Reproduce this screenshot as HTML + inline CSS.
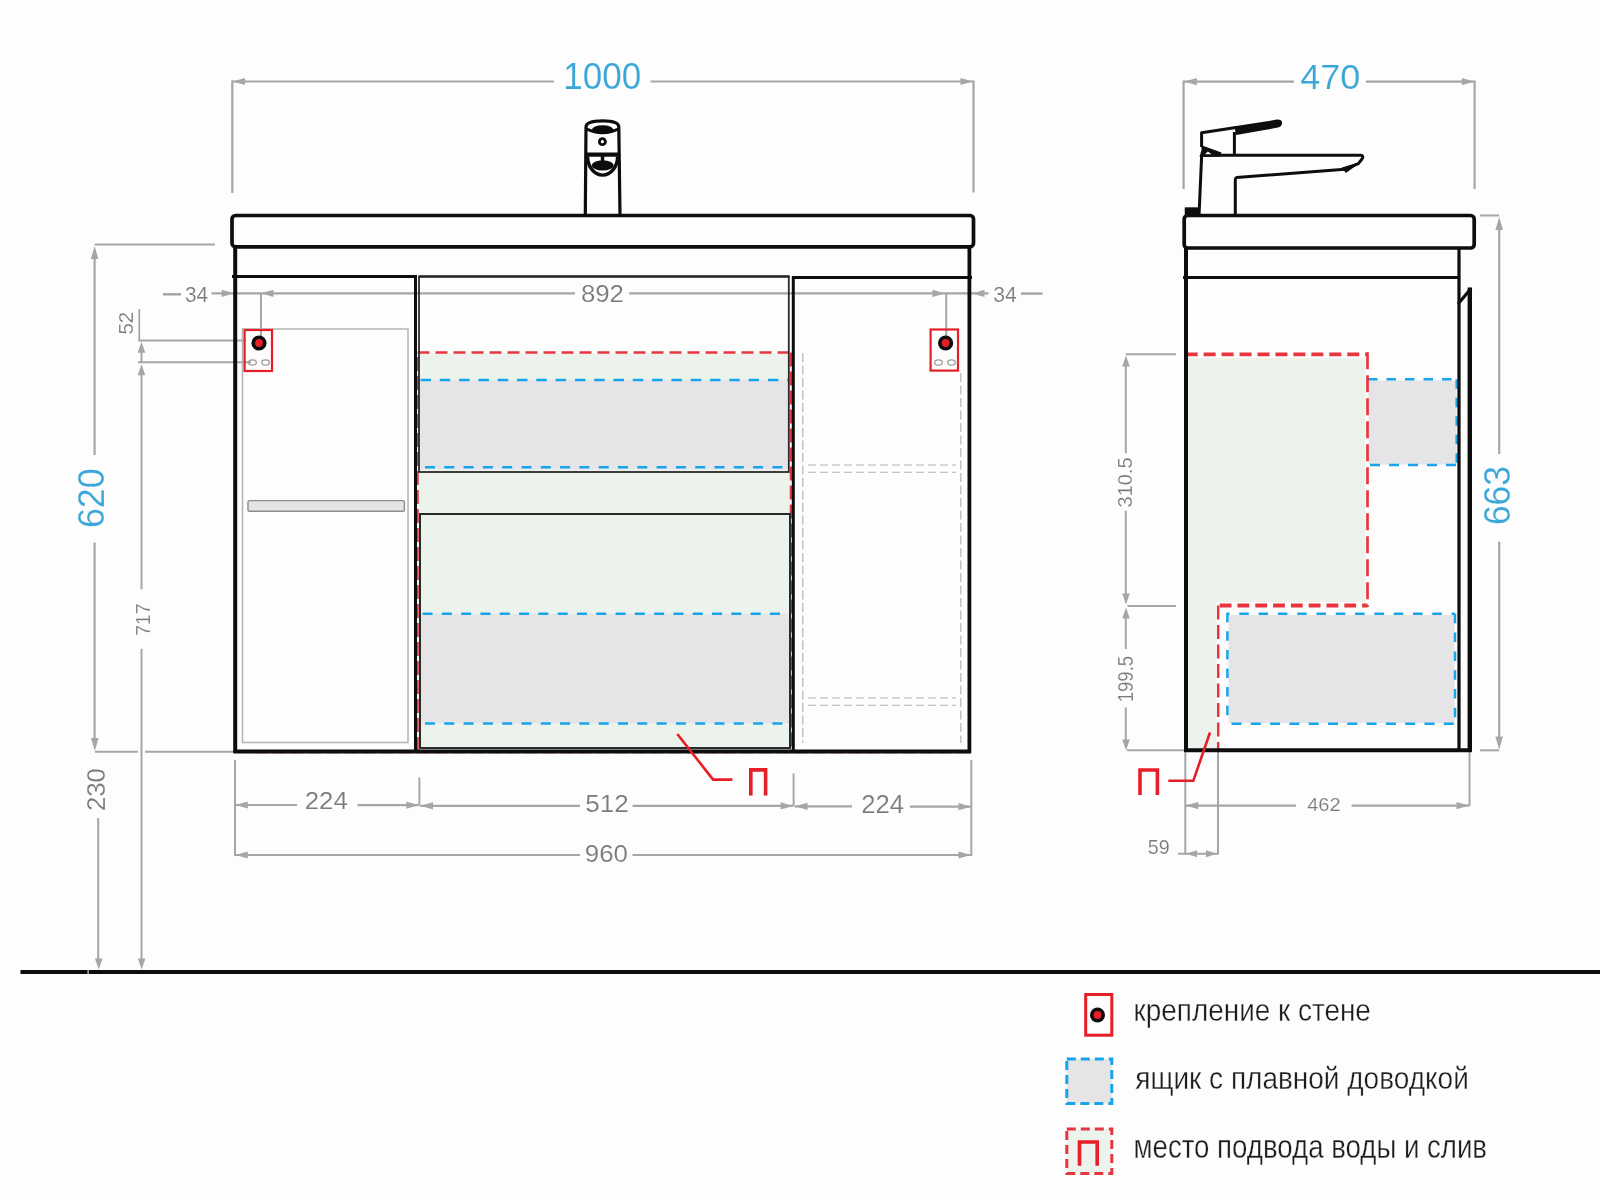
<!DOCTYPE html>
<html><head><meta charset="utf-8"><style>
html,body{margin:0;padding:0;background:#fdfdfd;}
svg{display:block;}
text{font-family:"Liberation Sans",sans-serif;}
</style></head><body>
<svg width="1600" height="1200" viewBox="0 0 1600 1200" style="will-change:transform">
<rect width="1600" height="1200" fill="#fdfdfd"/>
<rect x="418" y="353.5" width="372" height="397" fill="#ebf3ec"/>
<rect x="419" y="380" width="370" height="89.5" fill="#e5e5e8"/>
<rect x="420" y="613.8" width="369" height="109.6" fill="#e5e5e8"/>
<path d="M1188,358 H1365.5 V602 H1216.5 V750 H1188 Z" fill="#ebf3ec"/>
<rect x="1368.5" y="380.5" width="88" height="84" fill="#e5e5e8"/>
<rect x="1228.5" y="615" width="226" height="108" fill="#e5e5e8"/>
<line x1="232" y1="81.5" x2="554" y2="81.5" stroke="#a4a6a9" stroke-width="2.2" stroke-linecap="butt"/>
<line x1="650.5" y1="81.5" x2="973.5" y2="81.5" stroke="#a4a6a9" stroke-width="2.2" stroke-linecap="butt"/>
<polygon points="232.50,81.50 245.00,77.90 245.00,85.10" fill="#a4a6a9"/>
<polygon points="973.00,81.50 960.50,77.90 960.50,85.10" fill="#a4a6a9"/>
<line x1="232.3" y1="80.5" x2="232.3" y2="193" stroke="#a4a6a9" stroke-width="2.2" stroke-linecap="butt"/>
<line x1="973.5" y1="80.5" x2="973.5" y2="192.5" stroke="#a4a6a9" stroke-width="2.2" stroke-linecap="butt"/>
<line x1="163" y1="294.3" x2="181" y2="294.3" stroke="#a4a6a9" stroke-width="2.5" stroke-linecap="butt"/>
<line x1="211.5" y1="293.3" x2="575" y2="293.3" stroke="#a4a6a9" stroke-width="2.2" stroke-linecap="butt"/>
<polygon points="234.20,293.30 221.70,289.70 221.70,296.90" fill="#a4a6a9"/>
<polygon points="261.00,293.30 273.50,289.70 273.50,296.90" fill="#a4a6a9"/>
<line x1="629.2" y1="293.4" x2="988.5" y2="293.4" stroke="#a4a6a9" stroke-width="2.2" stroke-linecap="butt"/>
<polygon points="945.00,293.40 932.50,289.80 932.50,297.00" fill="#a4a6a9"/>
<polygon points="972.00,293.40 984.50,289.80 984.50,297.00" fill="#a4a6a9"/>
<line x1="1021" y1="293.6" x2="1042.5" y2="293.6" stroke="#a4a6a9" stroke-width="2.5" stroke-linecap="butt"/>
<line x1="261" y1="293" x2="261" y2="336" stroke="#a4a6a9" stroke-width="2" stroke-linecap="butt"/>
<line x1="946.2" y1="293" x2="946.2" y2="336" stroke="#a4a6a9" stroke-width="2" stroke-linecap="butt"/>
<line x1="139.3" y1="309" x2="139.3" y2="341" stroke="#9d9fa2" stroke-width="1.6" stroke-linecap="butt"/>
<line x1="138.5" y1="340.4" x2="246" y2="340.4" stroke="#a4a6a9" stroke-width="2" stroke-linecap="butt"/>
<line x1="138" y1="362.3" x2="251" y2="362.3" stroke="#a4a6a9" stroke-width="2" stroke-linecap="butt"/>
<polygon points="141.50,341.80 137.70,352.80 145.30,352.80" fill="#a4a6a9"/>
<line x1="141.5" y1="350" x2="141.5" y2="362" stroke="#a4a6a9" stroke-width="2" stroke-linecap="butt"/>
<polygon points="141.50,364.30 137.70,375.30 145.30,375.30" fill="#a4a6a9"/>
<line x1="141.5" y1="372" x2="141.5" y2="589.3" stroke="#a4a6a9" stroke-width="2" stroke-linecap="butt"/>
<line x1="141.5" y1="648.8" x2="141.5" y2="960" stroke="#a4a6a9" stroke-width="2" stroke-linecap="butt"/>
<polygon points="141.60,969.50 137.80,958.50 145.40,958.50" fill="#a4a6a9"/>
<line x1="94.6" y1="244.5" x2="215" y2="244.5" stroke="#a4a6a9" stroke-width="2.2" stroke-linecap="butt"/>
<polygon points="94.60,246.00 90.80,259.00 98.40,259.00" fill="#a4a6a9"/>
<line x1="94.6" y1="256" x2="94.6" y2="455" stroke="#a4a6a9" stroke-width="2.2" stroke-linecap="butt"/>
<line x1="94.6" y1="542.6" x2="94.6" y2="740" stroke="#a4a6a9" stroke-width="2.2" stroke-linecap="butt"/>
<polygon points="94.80,751.00 91.00,738.00 98.60,738.00" fill="#a4a6a9"/>
<line x1="95" y1="751.8" x2="138" y2="751.8" stroke="#a4a6a9" stroke-width="2" stroke-linecap="butt"/>
<line x1="145" y1="751.8" x2="233" y2="751.8" stroke="#a4a6a9" stroke-width="2" stroke-linecap="butt"/>
<line x1="98.2" y1="818" x2="98.2" y2="960" stroke="#a4a6a9" stroke-width="2" stroke-linecap="butt"/>
<polygon points="98.70,969.50 94.90,958.50 102.50,958.50" fill="#a4a6a9"/>
<line x1="20.5" y1="972" x2="1600" y2="972" stroke="#0d0d0d" stroke-width="3.8" stroke-linecap="butt"/>
<rect x="87.6" y="968" width="1" height="8" fill="#fdfdfd"/>
<line x1="235" y1="760" x2="235" y2="856" stroke="#a4a6a9" stroke-width="2" stroke-linecap="butt"/>
<line x1="971.3" y1="760" x2="971.3" y2="856" stroke="#a4a6a9" stroke-width="2" stroke-linecap="butt"/>
<line x1="419.4" y1="777.5" x2="419.4" y2="806" stroke="#a4a6a9" stroke-width="2" stroke-linecap="butt"/>
<line x1="793.6" y1="773.5" x2="793.6" y2="806" stroke="#a4a6a9" stroke-width="2" stroke-linecap="butt"/>
<line x1="235" y1="805" x2="297" y2="805" stroke="#a4a6a9" stroke-width="2.2" stroke-linecap="butt"/>
<polygon points="235.30,805.00 247.80,801.40 247.80,808.60" fill="#a4a6a9"/>
<line x1="357.5" y1="805.2" x2="418.5" y2="805.2" stroke="#a4a6a9" stroke-width="2.2" stroke-linecap="butt"/>
<polygon points="418.80,805.20 406.30,801.60 406.30,808.80" fill="#a4a6a9"/>
<line x1="420.5" y1="805.8" x2="580" y2="805.8" stroke="#a4a6a9" stroke-width="2.2" stroke-linecap="butt"/>
<polygon points="420.50,805.80 433.00,802.20 433.00,809.40" fill="#a4a6a9"/>
<line x1="632.6" y1="805.9" x2="793" y2="805.9" stroke="#a4a6a9" stroke-width="2.2" stroke-linecap="butt"/>
<polygon points="793.20,805.90 780.70,802.30 780.70,809.50" fill="#a4a6a9"/>
<line x1="794.5" y1="806.3" x2="852" y2="806.3" stroke="#a4a6a9" stroke-width="2.2" stroke-linecap="butt"/>
<polygon points="795.00,806.30 807.50,802.70 807.50,809.90" fill="#a4a6a9"/>
<line x1="910" y1="806.7" x2="971" y2="806.7" stroke="#a4a6a9" stroke-width="2.2" stroke-linecap="butt"/>
<polygon points="971.00,806.70 958.50,803.10 958.50,810.30" fill="#a4a6a9"/>
<line x1="235" y1="855" x2="580" y2="855" stroke="#a4a6a9" stroke-width="2.2" stroke-linecap="butt"/>
<polygon points="235.30,855.00 247.80,851.40 247.80,858.60" fill="#a4a6a9"/>
<line x1="632.5" y1="855" x2="971" y2="855" stroke="#a4a6a9" stroke-width="2.2" stroke-linecap="butt"/>
<polygon points="971.00,855.00 958.50,851.40 958.50,858.60" fill="#a4a6a9"/>
<line x1="1184" y1="81.6" x2="1294" y2="81.6" stroke="#a4a6a9" stroke-width="2.2" stroke-linecap="butt"/>
<line x1="1366" y1="81.6" x2="1474.6" y2="81.6" stroke="#a4a6a9" stroke-width="2.2" stroke-linecap="butt"/>
<polygon points="1184.30,81.60 1196.80,78.00 1196.80,85.20" fill="#a4a6a9"/>
<polygon points="1474.30,81.60 1461.80,78.00 1461.80,85.20" fill="#a4a6a9"/>
<line x1="1183.6" y1="80.5" x2="1183.6" y2="189" stroke="#a4a6a9" stroke-width="2.2" stroke-linecap="butt"/>
<line x1="1474.6" y1="80.5" x2="1474.6" y2="189" stroke="#a4a6a9" stroke-width="2.2" stroke-linecap="butt"/>
<line x1="1125.8" y1="354.2" x2="1176" y2="354.2" stroke="#a4a6a9" stroke-width="2" stroke-linecap="butt"/>
<polygon points="1126.00,355.50 1122.20,366.50 1129.80,366.50" fill="#a4a6a9"/>
<line x1="1125.8" y1="362" x2="1125.8" y2="453.3" stroke="#a4a6a9" stroke-width="2" stroke-linecap="butt"/>
<line x1="1125.8" y1="510.8" x2="1125.8" y2="595" stroke="#a4a6a9" stroke-width="2" stroke-linecap="butt"/>
<polygon points="1126.00,604.50 1122.20,593.50 1129.80,593.50" fill="#a4a6a9"/>
<line x1="1127.5" y1="606" x2="1176" y2="606" stroke="#a4a6a9" stroke-width="2" stroke-linecap="butt"/>
<polygon points="1126.00,607.50 1122.20,618.50 1129.80,618.50" fill="#a4a6a9"/>
<line x1="1125.8" y1="615" x2="1125.8" y2="649" stroke="#a4a6a9" stroke-width="2" stroke-linecap="butt"/>
<line x1="1125.8" y1="707.5" x2="1125.8" y2="742" stroke="#a4a6a9" stroke-width="2" stroke-linecap="butt"/>
<polygon points="1126.00,750.50 1122.20,739.50 1129.80,739.50" fill="#a4a6a9"/>
<line x1="1127" y1="750.2" x2="1184" y2="750.2" stroke="#a4a6a9" stroke-width="2" stroke-linecap="butt"/>
<line x1="1480" y1="215.5" x2="1499.2" y2="215.5" stroke="#a4a6a9" stroke-width="2" stroke-linecap="butt"/>
<polygon points="1499.20,217.00 1495.40,230.00 1503.00,230.00" fill="#a4a6a9"/>
<line x1="1499.2" y1="225" x2="1499.2" y2="454" stroke="#a4a6a9" stroke-width="2.2" stroke-linecap="butt"/>
<line x1="1499.2" y1="541.7" x2="1499.2" y2="740" stroke="#a4a6a9" stroke-width="2.2" stroke-linecap="butt"/>
<polygon points="1499.20,749.50 1495.40,736.50 1503.00,736.50" fill="#a4a6a9"/>
<line x1="1480" y1="750.3" x2="1499.2" y2="750.3" stroke="#a4a6a9" stroke-width="2" stroke-linecap="butt"/>
<line x1="1185.3" y1="752" x2="1185.3" y2="854.5" stroke="#a4a6a9" stroke-width="2" stroke-linecap="butt"/>
<line x1="1218" y1="752" x2="1218" y2="854.5" stroke="#a4a6a9" stroke-width="2" stroke-linecap="butt"/>
<line x1="1469.5" y1="752" x2="1469.5" y2="806" stroke="#a4a6a9" stroke-width="2" stroke-linecap="butt"/>
<line x1="1185.5" y1="805.6" x2="1296" y2="805.6" stroke="#a4a6a9" stroke-width="2.2" stroke-linecap="butt"/>
<polygon points="1185.80,805.60 1198.30,802.00 1198.30,809.20" fill="#a4a6a9"/>
<line x1="1351.6" y1="805.6" x2="1469" y2="805.6" stroke="#a4a6a9" stroke-width="2.2" stroke-linecap="butt"/>
<polygon points="1469.00,805.60 1456.50,802.00 1456.50,809.20" fill="#a4a6a9"/>
<line x1="1178" y1="853.8" x2="1218" y2="853.8" stroke="#a4a6a9" stroke-width="2" stroke-linecap="butt"/>
<polygon points="1186.00,853.80 1197.00,850.30 1197.00,857.30" fill="#a4a6a9"/>
<polygon points="1217.00,853.80 1206.00,850.30 1206.00,857.30" fill="#a4a6a9"/>
<line x1="417.5" y1="751" x2="417.5" y2="352.5" stroke="#e8353f" stroke-width="2.5" stroke-linecap="butt" stroke-dasharray="14 5"/>
<line x1="417.5" y1="352.5" x2="788" y2="352.5" stroke="#e8353f" stroke-width="2.5" stroke-linecap="butt" stroke-dasharray="12 6"/>
<line x1="791" y1="352.5" x2="791" y2="751" stroke="#e8353f" stroke-width="2.5" stroke-linecap="butt" stroke-dasharray="14 5"/>
<line x1="255" y1="752.5" x2="970" y2="752.5" stroke="#e8353f" stroke-width="1.5" stroke-linecap="butt" stroke-dasharray="12 6"/>
<line x1="420" y1="380" x2="788" y2="380" stroke="#16a5ea" stroke-width="2.5" stroke-dasharray="10.5 8.8" stroke-dashoffset="18.80" stroke-linecap="butt"/>
<line x1="425" y1="467.3" x2="784.5" y2="467.3" stroke="#16a5ea" stroke-width="2.5" stroke-dasharray="10 9.3" stroke-dashoffset="0.00" stroke-linecap="butt"/>
<line x1="420" y1="613.8" x2="788" y2="613.8" stroke="#16a5ea" stroke-width="2.5" stroke-dasharray="10 9.3" stroke-dashoffset="16.75" stroke-linecap="butt"/>
<line x1="425" y1="723.4" x2="784.5" y2="723.4" stroke="#16a5ea" stroke-width="2.5" stroke-dasharray="10 9.3" stroke-dashoffset="0.00" stroke-linecap="butt"/>
<line x1="1367.5" y1="379.3" x2="1456.7" y2="379.3" stroke="#16a5ea" stroke-width="2.5" stroke-dasharray="9.5 9" stroke-dashoffset="18.00" stroke-linecap="butt"/>
<line x1="1367.5" y1="465" x2="1456.7" y2="465" stroke="#16a5ea" stroke-width="2.5" stroke-dasharray="10 9" stroke-dashoffset="16.50" stroke-linecap="butt"/>
<line x1="1456.7" y1="379.3" x2="1456.7" y2="465" stroke="#16a5ea" stroke-width="2.5" stroke-dasharray="9.5 9" stroke-dashoffset="0.00" stroke-linecap="butt"/>
<line x1="1227.5" y1="613.8" x2="1455" y2="613.8" stroke="#16a5ea" stroke-width="2.5" stroke-dasharray="9.5 9.8" stroke-dashoffset="7.50" stroke-linecap="butt"/>
<line x1="1227.5" y1="723.7" x2="1455" y2="723.7" stroke="#16a5ea" stroke-width="2.5" stroke-dasharray="10 9.3" stroke-dashoffset="15.30" stroke-linecap="butt"/>
<line x1="1455" y1="613.8" x2="1455" y2="723.7" stroke="#16a5ea" stroke-width="2.5" stroke-dasharray="9.5 9.3" stroke-dashoffset="0.00" stroke-linecap="butt"/>
<line x1="1227.4" y1="612.7" x2="1227.4" y2="723.7" stroke="#16a5ea" stroke-width="2.5" stroke-dasharray="9.5 9.1" stroke-dashoffset="0.00" stroke-linecap="butt"/>
<line x1="1185.7" y1="354.3" x2="1367.5" y2="354.3" stroke="#e8353f" stroke-width="3.8" stroke-dasharray="12 5.95" stroke-dashoffset="0.00" stroke-linecap="butt"/>
<line x1="1367.5" y1="352.2" x2="1367.5" y2="607" stroke="#e8353f" stroke-width="2.7" stroke-dasharray="17 6" stroke-dashoffset="0.00" stroke-linecap="butt"/>
<line x1="1218.2" y1="605.5" x2="1367.5" y2="605.5" stroke="#e8353f" stroke-width="3.8" stroke-dasharray="11.8 6" stroke-dashoffset="16.30" stroke-linecap="butt"/>
<line x1="1218.2" y1="605.5" x2="1218.2" y2="751" stroke="#e8353f" stroke-width="2.5" stroke-dasharray="14 5.5" stroke-dashoffset="0.00" stroke-linecap="butt"/>
<rect x="232" y="215.5" width="741.5" height="31.3" rx="3.5" fill="none" stroke="#0d0d0d" stroke-width="3.7"/>
<line x1="235.2" y1="246" x2="235.2" y2="753" stroke="#0d0d0d" stroke-width="4" stroke-linecap="butt"/>
<line x1="969.4" y1="246" x2="969.4" y2="753" stroke="#0d0d0d" stroke-width="3.8" stroke-linecap="butt"/>
<line x1="233.5" y1="751.5" x2="971" y2="751.5" stroke="#0d0d0d" stroke-width="4" stroke-linecap="butt"/>
<line x1="232" y1="276.5" x2="417" y2="276.5" stroke="#0d0d0d" stroke-width="3" stroke-linecap="butt"/>
<line x1="419" y1="276.5" x2="789.5" y2="276.5" stroke="#333" stroke-width="2.5" stroke-linecap="butt"/>
<line x1="792" y1="277.5" x2="972" y2="277.5" stroke="#0d0d0d" stroke-width="3" stroke-linecap="butt"/>
<line x1="415.5" y1="275" x2="415.5" y2="751" stroke="#0d0d0d" stroke-width="3" stroke-linecap="butt"/>
<line x1="793.3" y1="276" x2="793.3" y2="751" stroke="#0d0d0d" stroke-width="3" stroke-linecap="butt"/>
<rect x="419" y="276.5" width="369.8" height="195.5" fill="none" stroke="#2a2a2a" stroke-width="1.8"/>
<rect x="420" y="514" width="370" height="234" fill="none" stroke="#2a2a2a" stroke-width="2"/>
<rect x="242.5" y="329" width="165.5" height="413.5" fill="none" stroke="#b4b4b4" stroke-width="1.5"/>
<rect x="248" y="500.6" width="156.4" height="10.6" rx="1.5" fill="#e4e4e6" stroke="#8c8c8c" stroke-width="1.4"/>
<line x1="802.8" y1="353" x2="802.8" y2="743" stroke="#b4b4b4" stroke-width="1.2" stroke-linecap="butt" stroke-dasharray="9 3.5"/>
<line x1="960.8" y1="373" x2="960.8" y2="743" stroke="#b4b4b4" stroke-width="1.2" stroke-linecap="butt" stroke-dasharray="9 3.5"/>
<line x1="808" y1="465" x2="956" y2="465" stroke="#b4b4b4" stroke-width="1.1" stroke-linecap="butt" stroke-dasharray="8 4"/>
<line x1="808" y1="472.3" x2="956" y2="472.3" stroke="#b4b4b4" stroke-width="1.1" stroke-linecap="butt" stroke-dasharray="8 4"/>
<line x1="808" y1="698" x2="956" y2="698" stroke="#b4b4b4" stroke-width="1.1" stroke-linecap="butt" stroke-dasharray="8 4"/>
<line x1="808" y1="705.3" x2="956" y2="705.3" stroke="#b4b4b4" stroke-width="1.1" stroke-linecap="butt" stroke-dasharray="8 4"/>
<rect x="244.6" y="330" width="27.400000000000006" height="41" fill="none" stroke="#e61e28" stroke-width="2.2"/>
<circle cx="259" cy="343" r="7.6" fill="#0c0c0c"/>
<circle cx="259" cy="343" r="3.9" fill="#e61e28"/>
<ellipse cx="252.5" cy="362.5" rx="3.8" ry="2.7" fill="none" stroke="#9a9a9a" stroke-width="1.2"/>
<ellipse cx="265.5" cy="362.5" rx="3.8" ry="2.7" fill="none" stroke="#9a9a9a" stroke-width="1.2"/>
<rect x="930.6" y="329.5" width="27.399999999999977" height="41.10000000000002" fill="none" stroke="#e61e28" stroke-width="2.2"/>
<circle cx="945.6" cy="343" r="7.6" fill="#0c0c0c"/>
<circle cx="945.6" cy="343" r="3.9" fill="#e61e28"/>
<ellipse cx="938.5" cy="362.5" rx="3.8" ry="2.7" fill="none" stroke="#9a9a9a" stroke-width="1.2"/>
<ellipse cx="951.5" cy="362.5" rx="3.8" ry="2.7" fill="none" stroke="#9a9a9a" stroke-width="1.2"/>
<path d="M585.3,215 L586,127 Q586.2,120.8 602.5,120.8 Q618.8,120.8 618.8,127 L620,215" stroke="#0d0d0d" stroke-width="3.2" fill="none" stroke-linejoin="miter" stroke-linecap="butt"/>
<path d="M586.5,129 Q602.5,136.5 618.5,129" stroke="#0d0d0d" stroke-width="3" fill="none" stroke-linejoin="miter" stroke-linecap="butt"/>
<ellipse cx="602.6" cy="129.6" rx="10.6" ry="4.4" fill="#0c0c0c"/>
<circle cx="602.4" cy="141.7" r="3" fill="none" stroke="#0c0c0c" stroke-width="2.8"/>
<line x1="586" y1="154.6" x2="619.5" y2="154.6" stroke="#0d0d0d" stroke-width="4.4" stroke-linecap="butt"/>
<line x1="602.5" y1="156" x2="602.5" y2="162" stroke="#0d0d0d" stroke-width="3.4" stroke-linecap="butt"/>
<path d="M587.6,156.5 A15,18.6 0 0 0 617.6,156.5" stroke="#0d0d0d" stroke-width="3.4" fill="none" stroke-linejoin="miter" stroke-linecap="butt"/>
<ellipse cx="602.7" cy="165.4" rx="11" ry="5.2" fill="#0c0c0c"/>
<rect x="1184.2" y="215.5" width="290" height="32.5" rx="3.5" fill="none" stroke="#0d0d0d" stroke-width="3.7"/>
<line x1="1186" y1="248" x2="1186" y2="752" stroke="#0d0d0d" stroke-width="4" stroke-linecap="butt"/>
<line x1="1459" y1="248" x2="1459" y2="752" stroke="#0d0d0d" stroke-width="3.2" stroke-linecap="butt"/>
<line x1="1184.5" y1="750.2" x2="1471.5" y2="750.2" stroke="#0d0d0d" stroke-width="4" stroke-linecap="butt"/>
<line x1="1183" y1="277.5" x2="1459" y2="277.5" stroke="#0d0d0d" stroke-width="3" stroke-linecap="butt"/>
<line x1="1469.8" y1="287.5" x2="1469.8" y2="752" stroke="#0d0d0d" stroke-width="4.4" stroke-linecap="butt"/>
<path d="M1458,304 L1471,288.5" stroke="#0d0d0d" stroke-width="3.2" fill="none" stroke-linejoin="miter" stroke-linecap="butt"/>
<path d="M1185,216 V207.6 H1199.6 V216 Z" stroke="#0d0d0d" stroke-width="0.5" fill="#0d0d0d" stroke-linejoin="miter" stroke-linecap="butt"/>
<path d="M1199,216 L1201.6,156.5 Q1202,155.3 1204,155.3 L1361,155.3 Q1364,156 1362,159 L1358.4,163.6 L1345,169.2 L1236.5,177.6 Q1235.3,178 1235.3,180 L1235.3,216" stroke="#0d0d0d" stroke-width="3" fill="none" stroke-linejoin="round" stroke-linecap="butt"/>
<path d="M1343,168 L1358,163.5 L1346,172 Z" stroke="#0d0d0d" stroke-width="1.5" fill="#0d0d0d" stroke-linejoin="miter" stroke-linecap="butt"/>
<path d="M1201.6,147 V132.8 L1236,127.6" stroke="#0d0d0d" stroke-width="3" fill="none" stroke-linejoin="round" stroke-linecap="butt"/>
<path d="M1234.5,126.3 L1277,119.6 Q1282.6,119.4 1282,123.6 Q1281.5,127 1278,127.6 L1236,135 Z" fill="#0d0d0d"/>
<path d="M1234.4,132 V155" stroke="#0d0d0d" stroke-width="3" fill="none" stroke-linejoin="miter" stroke-linecap="butt"/>
<path d="M1201.6,147 L1221,153.8" stroke="#0d0d0d" stroke-width="3" fill="none" stroke-linejoin="miter" stroke-linecap="butt"/>
<path d="M1199.5,157 L1202,148 L1221,153.5 L1221,156.5 Z" fill="#0d0d0d"/>
<path d="M1205,154.3 L1207.8,151.6 L1211.5,154.3 Z" fill="#fdfdfd"/>
<text transform="matrix(0.9740,0,0,1.0000,563.328,89.148)" font-size="36.02" fill="#3ba7d9" stroke="#fdfdfd" stroke-width="0.15">1000</text>
<text transform="matrix(0.9408,0,0,1.0000,184.905,302.083)" font-size="22.17" fill="#7b7b7b" stroke="#fdfdfd" stroke-width="0.15">34</text>
<text transform="matrix(1.0701,0,0,1.0000,580.877,302.164)" font-size="24.15" fill="#7b7b7b" stroke="#fdfdfd" stroke-width="0.15">892</text>
<text transform="matrix(0.9938,0,0,1.0000,993.198,301.693)" font-size="21.19" fill="#7b7b7b" stroke="#fdfdfd" stroke-width="0.15">34</text>
<text transform="matrix(0,-1.0103,1.0000,0,132.501,334.623)" font-size="20.34" fill="#7b7b7b" stroke="#fdfdfd" stroke-width="0.15">52</text>
<text transform="matrix(0,-0.9503,1.0000,0,149.800,635.791)" font-size="20.35" fill="#7b7b7b" stroke="#fdfdfd" stroke-width="0.15">717</text>
<text transform="matrix(0,-0.9652,1.0000,0,103.937,528.121)" font-size="37.15" fill="#3ba7d9" stroke="#fdfdfd" stroke-width="0.15">620</text>
<text transform="matrix(0,-0.9782,1.0000,0,105.242,811.099)" font-size="26.41" fill="#7b7b7b" stroke="#fdfdfd" stroke-width="0.15">230</text>
<text transform="matrix(1.0661,0,0,1.0000,304.702,809.400)" font-size="24.20" fill="#7b7b7b" stroke="#fdfdfd" stroke-width="0.15">224</text>
<text transform="matrix(1.1121,0,0,1.0000,585.206,811.771)" font-size="23.45" fill="#7b7b7b" stroke="#fdfdfd" stroke-width="0.15">512</text>
<text transform="matrix(1.0246,0,0,1.0000,861.209,812.500)" font-size="25.06" fill="#7b7b7b" stroke="#fdfdfd" stroke-width="0.15">224</text>
<text transform="matrix(1.1050,0,0,1.0000,584.786,861.671)" font-size="23.45" fill="#7b7b7b" stroke="#fdfdfd" stroke-width="0.15">960</text>
<path d="M677.3,734 L713.1,779.6 L732.4,779.6" stroke="#e61e28" stroke-width="2.6" fill="none" stroke-linejoin="miter" stroke-linecap="butt"/>
<path d="M750.8,795.4 V769.9 H765.6 V795.4" stroke="#e61e28" stroke-width="3.6" fill="none" stroke-linejoin="miter" stroke-linecap="butt"/>
<text transform="matrix(1.0144,0,0,1.0000,1300.171,89.252)" font-size="35.59" fill="#3ba7d9" stroke="#fdfdfd" stroke-width="0.15">470</text>
<text transform="matrix(0,-0.9962,1.0000,0,1131.504,507.461)" font-size="20.06" fill="#7b7b7b" stroke="#fdfdfd" stroke-width="0.15">310.5</text>
<text transform="matrix(0,-0.8730,1.0000,0,1132.793,702.209)" font-size="21.19" fill="#7b7b7b" stroke="#fdfdfd" stroke-width="0.15">199.5</text>
<text transform="matrix(0,-0.9367,1.0000,0,1510.430,525.101)" font-size="37.85" fill="#3ba7d9" stroke="#fdfdfd" stroke-width="0.15">663</text>
<text transform="matrix(1.0959,0,0,1.0000,1307.138,810.821)" font-size="18.36" fill="#7b7b7b" stroke="#fdfdfd" stroke-width="0.15">462</text>
<text transform="matrix(0.9365,0,0,1.0000,1147.711,854.294)" font-size="21.04" fill="#7b7b7b" stroke="#fdfdfd" stroke-width="0.15">59</text>
<path d="M1210,732.5 L1193.3,780.8 L1168.3,780.8" stroke="#e61e28" stroke-width="2.6" fill="none" stroke-linejoin="miter" stroke-linecap="butt"/>
<path d="M1140,795 V770 H1157.4 V795" stroke="#e61e28" stroke-width="3.6" fill="none" stroke-linejoin="miter" stroke-linecap="butt"/>
<rect x="1085.7" y="994.5" width="26.1" height="40.7" fill="none" stroke="#e61e28" stroke-width="3"/>
<circle cx="1097.5" cy="1015" r="7.5" fill="#0c0c0c"/>
<circle cx="1097.5" cy="1015" r="4" fill="#e61e28"/>
<rect x="1066.8" y="1059" width="45" height="44.5" fill="#e5e5e8" stroke="#16a5ea" stroke-width="3" stroke-dasharray="9 5"/>
<rect x="1066.8" y="1129" width="45" height="44.5" fill="#ebf3ec" stroke="#e8353f" stroke-width="3" stroke-dasharray="9 5"/>
<path d="M1079.5,1165.8 V1142 H1097.2 V1165.8" stroke="#e61e28" stroke-width="3.6" fill="none" stroke-linejoin="miter" stroke-linecap="butt"/>
<text transform="matrix(0.9074,0,0,1,1133.619,1021.250)" font-size="30.76" fill="#1c1c1c" stroke="#fdfdfd" stroke-width="0.35">крепление к стене</text>
<text transform="matrix(0.9102,0,0,1,1135.268,1088.750)" font-size="30.76" fill="#1c1c1c" stroke="#fdfdfd" stroke-width="0.35">ящик с плавной доводкой</text>
<text transform="matrix(0.8341,0,0,1,1133.584,1157.500)" font-size="33.12" fill="#1c1c1c" stroke="#fdfdfd" stroke-width="0.35">место подвода воды и слив</text>

</svg>
</body></html>
